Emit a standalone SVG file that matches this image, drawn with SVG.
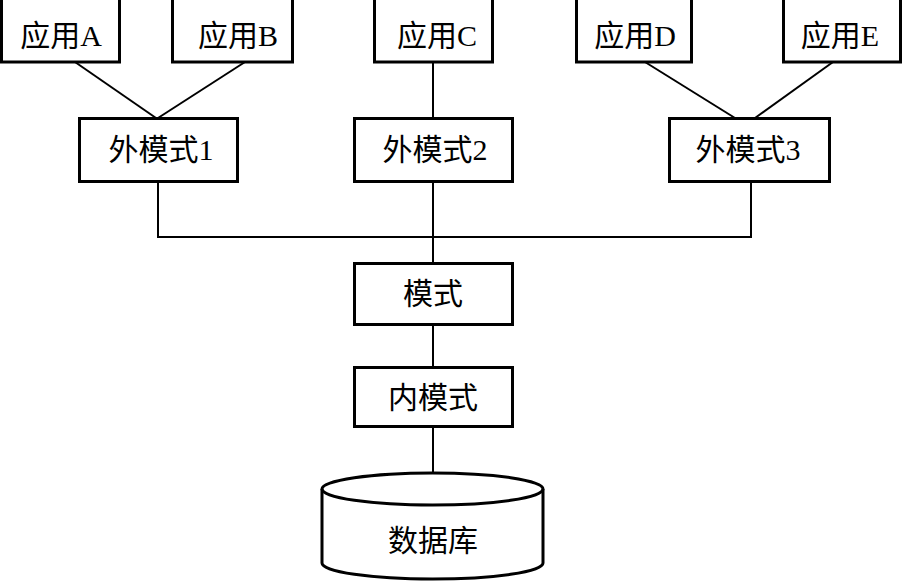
<svg xmlns="http://www.w3.org/2000/svg" width="903" height="582" viewBox="0 0 903 582">
<style>
.box{fill:#fff;stroke:#000;stroke-width:3}
.ln{stroke:#000;stroke-width:2;fill:none}
text{font-family:"Liberation Serif","Noto Sans CJK SC",serif;font-size:30px;fill:#000;text-anchor:middle;dominant-baseline:central}
</style>
<rect width="903" height="582" fill="#fff"/>
<g id="connectors">
<line class="ln" x1="75" y1="62" x2="156" y2="118"/>
<line class="ln" x1="245" y1="62" x2="158" y2="118"/>
<line class="ln" x1="433" y1="62" x2="433" y2="118"/>
<line class="ln" x1="645" y1="62" x2="735" y2="118"/>
<line class="ln" x1="833" y1="62" x2="755" y2="118"/>
<line class="ln" x1="158" y1="182" x2="158" y2="237"/>
<line class="ln" x1="433" y1="182" x2="433" y2="263"/>
<line class="ln" x1="751" y1="182" x2="751" y2="237"/>
<line class="ln" x1="157" y1="237" x2="752" y2="237"/>
<line class="ln" x1="433" y1="325" x2="433" y2="367"/>
<line class="ln" x1="433" y1="427" x2="433" y2="474"/>
</g>
<g id="appA"><rect class="box" x="1.5" y="-2" width="118" height="64"/><text x="61" y="35">应用A</text></g>
<g id="appB"><rect class="box" x="172.5" y="-2" width="120" height="64"/><text x="238" y="35">应用B</text></g>
<g id="appC"><rect class="box" x="374.5" y="-2" width="118" height="64"/><text x="437" y="35">应用C</text></g>
<g id="appD"><rect class="box" x="576.5" y="-2" width="115" height="64"/><text x="635" y="35">应用D</text></g>
<g id="appE"><rect class="box" x="783.5" y="-2" width="117" height="64"/><text x="840" y="35">应用E</text></g>
<g id="ext1"><rect class="box" x="79.5" y="118.5" width="158" height="63"/><text x="161" y="149">外模式1</text></g>
<g id="ext2"><rect class="box" x="354.5" y="118.5" width="158" height="63"/><text x="435" y="149">外模式2</text></g>
<g id="ext3"><rect class="box" x="669.5" y="118.5" width="160" height="63"/><text x="748" y="149">外模式3</text></g>
<g id="schema"><rect class="box" x="354.5" y="263.5" width="158" height="61"/><text x="433" y="293">模式</text></g>
<g id="internal"><rect class="box" x="354.5" y="367.5" width="158" height="59"/><text x="433" y="397">内模式</text></g>
<g id="database">
<path class="box" d="M322,489 A110.5,16 0 0 1 543,489 L543,563 A110.5,16 0 0 1 322,563 Z"/>
<path class="ln" style="stroke-width:3" d="M322,489 A110.5,16 0 0 0 543,489"/>
<text x="433" y="540">数据库</text>
</g>
</svg>
